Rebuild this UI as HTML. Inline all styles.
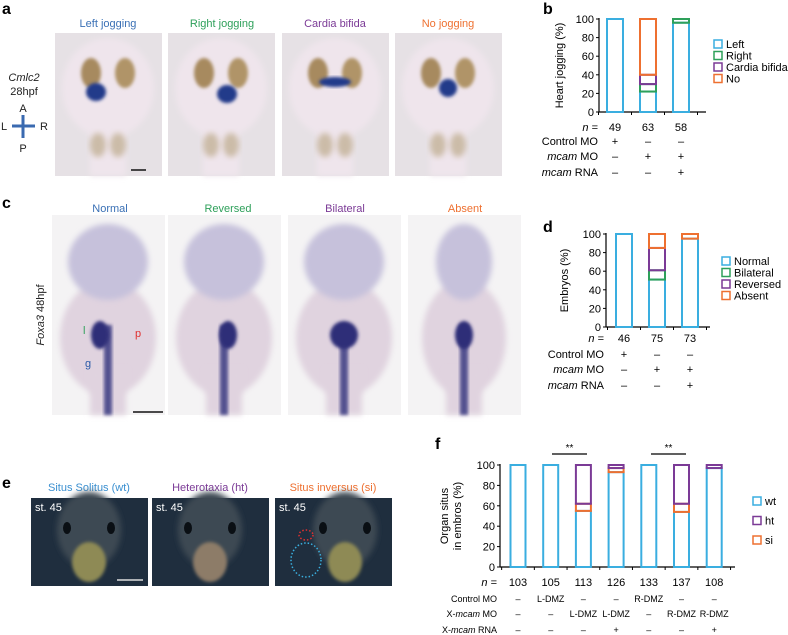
<!DOCTYPE html>
<html><head><meta charset="utf-8"><style>
body{margin:0;background:#fff;}
svg{display:block;font-family:"Liberation Sans",Arial,sans-serif;}
</style></head><body>
<svg id="fig" width="788" height="635" viewBox="0 0 788 635">
<defs>
<filter id="bl" x="-20%" y="-20%" width="140%" height="140%"><feGaussianBlur stdDeviation="3"/></filter>
<filter id="bl2" x="-20%" y="-20%" width="140%" height="140%"><feGaussianBlur stdDeviation="1.5"/></filter>
</defs>
<g font-weight="bold" font-size="16" fill="#000">
<text x="2" y="14">a</text>
<text x="543" y="14">b</text>
<text x="2" y="208">c</text>
<text x="543" y="232">d</text>
<text x="2" y="488">e</text>
<text x="435" y="449">f</text>
</g>

<g font-size="11" text-anchor="middle">
<text x="108" y="27" fill="#3a70b5">Left jogging</text>
<text x="222" y="27" fill="#2ea05a">Right jogging</text>
<text x="335" y="27" fill="#7b3a96">Cardia bifida</text>
<text x="448" y="27" fill="#ee7030">No jogging</text>
</g>
<g font-size="11" text-anchor="middle" fill="#222">
<text x="24" y="81" font-style="italic">Cmlc2</text>
<text x="24" y="95">28hpf</text>
<text x="23" y="112">A</text><text x="23" y="152">P</text>
<text x="4" y="130">L</text><text x="44" y="130">R</text>
</g>
<g stroke="#3a6ab0" stroke-width="3" fill="#3a6ab0">
<line x1="12" y1="126" x2="35" y2="126"/><line x1="23" y1="115" x2="23" y2="138"/>
</g>
<g id="photosA"></g>
<g id="photosC"></g>
<g font-size="11" text-anchor="middle">
<text x="110" y="212" fill="#3a70b5">Normal</text>
<text x="228" y="212" fill="#2ea05a">Reversed</text>
<text x="345" y="212" fill="#7b3a96">Bilateral</text>
<text x="465" y="212" fill="#ee7030">Absent</text>
</g>
<text transform="translate(44,315) rotate(-90)" font-size="11" text-anchor="middle" fill="#222"><tspan font-style="italic">Foxa3</tspan> 48hpf</text>

<g font-size="11" text-anchor="middle">
<text x="89" y="491" fill="#3a8fd0">Situs Solitus (wt)</text>
<text x="210" y="491" fill="#7b3a96">Heterotaxia (ht)</text>
<text x="333" y="491" fill="#ee7030">Situs inversus (si)</text>
</g>
<g id="photosE"></g>

<g id="chartB"></g><g id="chartD"></g><g id="chartF"></g>
</svg>
<script>
const bCats = ['49','63','58'];
const bLeft = [100,22,96];
const bRight = [0,8,4];
const bBifida = [0,10,0];
const bNo = [0,60,0];
const bRowLabels = ['Control MO','mcam MO','mcam RNA'];
const bRowVals = [['+','–','–'],['–','+','+'],['–','–','+']];
const bLegend = ['Left','Right','Cardia bifida','No'];

const dCats = ['46','75','73'];
const dNormal = [100,51,95];
const dBilateral = [0,10,0];
const dReversed = [0,24,0];
const dAbsent = [0,15,5];
const dRowLabels = ['Control MO','mcam MO','mcam RNA'];
const dRowVals = [['+','–','–'],['–','+','+'],['–','–','+']];
const dLegend = ['Normal','Bilateral','Reversed','Absent'];

const fCats = ['103','105','113','126','133','137','108'];
const fWt = [100,100,55,93,100,54,97];
const fSi = [0,0,7,4,0,8,0];
const fHt = [0,0,38,3,0,38,3];
const fRowLabels = ['Control MO','X-mcam MO','X-mcam RNA'];
const fRowVals = [['–','L-DMZ','–','–','R-DMZ','–','–'],['–','–','L-DMZ','L-DMZ','–','R-DMZ','R-DMZ'],['–','–','–','+','–','–','+']];
const fLegend = ['wt','ht','si'];
const yTicks = [0,20,40,60,80,100];

const NS='http://www.w3.org/2000/svg';
function mk(tag,attrs,parent,txt){const e=document.createElementNS(NS,tag);for(const k in attrs)e.setAttribute(k,attrs[k]);if(txt!==undefined)e.textContent=txt;parent.appendChild(e);return e;}
const C={blue:'#3aaee0',green:'#2ea05a',purple:'#7b3a96',orange:'#ee7030'};

function chart(g,cfg){
  const y=v=>cfg.y0-(cfg.y0-cfg.y100)*v/100;
  const x=i=>cfg.xc0+i*cfg.dx;
  const ax=mk('line',{x1:cfg.ax,y1:y(100)-1,x2:cfg.ax,y2:y(0),stroke:'#000','stroke-width':1.2},g);
  
  
  const bx=mk('line',{x1:cfg.ax,y1:y(0),x2:cfg.axEnd,y2:y(0),stroke:'#000','stroke-width':1.2},g);
  
  
  yTicks.forEach(t=>{
    const tl=mk('line',{x1:cfg.ax-3,y1:y(t),x2:cfg.ax,y2:y(t),stroke:'#000'},g);
    
    
    const tt=mk('text',{x:cfg.ax-5,y:y(t)+4,'font-size':11,'text-anchor':'end'},g,t);
    
    
  });
  for(let i=0;i<=cfg.cats.length;i++){
    const tk=mk('line',{x1:x(i)-cfg.dx/2,y1:y(0),x2:x(i)-cfg.dx/2,y2:y(0)+3,stroke:'#000'},g);
    
    
  }
  const yt=mk('text',{transform:`translate(${cfg.ytX},${(y(0)+y(100))/2}) rotate(-90)`,'font-size':11,'text-anchor':'middle'},g);
  
  
  cfg.ytitle.forEach((s,k)=>mk('tspan',{x:0,dy:k?13:(cfg.ytitle.length>1?-6:0)},yt,s));
  cfg.cats.forEach((c,i)=>{
    let base=0;
    cfg.series.forEach(s=>{
      const v=s.vals[i]; if(v<=0)return;
      const r=mk('rect',{x:x(i)-cfg.bw/2,y:y(base+v),width:cfg.bw,height:y(base)-y(base+v),fill:'none',stroke:s.color,'stroke-width':2},g);
      
      
      base+=v;
    });
    const nt=mk('text',{x:x(i),y:cfg.nY,'font-size':11,'text-anchor':'middle'},g,c);
    
    
    cfg.rowVals.forEach((row,r)=>{
      const t=mk('text',{x:x(i),y:cfg.rowY[r],'font-size':cfg.rowFs,'text-anchor':'middle'},g,row[i]);
      
      
    });
  });
  const nl=mk('text',{x:cfg.labX,y:cfg.nY,'font-size':11,'text-anchor':'end','font-style':'italic'},g,'n');
  
  
  mk('tspan',{'font-style':'normal'},nl,' =');
  cfg.rowLabels.forEach((l,r)=>{
    const t=mk('text',{x:cfg.labX,y:cfg.rowY[r],'font-size':cfg.rowFs,'text-anchor':'end'},g);
    
    
    const m=l.match(/^(X-)?(mcam)(.*)$/);
    if(m){ if(m[1])mk('tspan',{},t,m[1]); mk('tspan',{'font-style':'italic'},t,m[2]); mk('tspan',{},t,m[3]); }
    else t.textContent=l;
  });
  cfg.legend.forEach((l,k)=>{
    const ly=cfg.legY+k*cfg.legDy;
    const r=mk('rect',{x:cfg.legX,y:ly-4,width:8,height:8,fill:'none',stroke:cfg.legColors[k],'stroke-width':1.5},g);
    
    
    const t=mk('text',{x:cfg.legX+12,y:ly+4,'font-size':11},g,l);
    
    
  });
}

chart(document.getElementById('chartB'),{y0:112,y100:19,ax:599,axEnd:706,xc0:615,dx:33,bw:16,cats:bCats,
  series:[{name:'left',vals:bLeft,color:C.blue},{name:'right',vals:bRight,color:C.green},{name:'bifida',vals:bBifida,color:C.purple},{name:'no',vals:bNo,color:C.orange}],
  ytitle:['Heart jogging (%)'],ytX:563,nY:131,rowY:[145,160,176],rowFs:11,rowVals:bRowVals,rowLabels:bRowLabels,labX:598,
  legend:bLegend,legColors:[C.blue,C.green,C.purple,C.orange],legX:714,legY:44,legDy:11.5});
chart(document.getElementById('chartD'),{y0:327,y100:234,ax:606,axEnd:710,xc0:624,dx:33,bw:16,cats:dCats,
  series:[{name:'normal',vals:dNormal,color:C.blue},{name:'bilateral',vals:dBilateral,color:C.green},{name:'reversed',vals:dReversed,color:C.purple},{name:'absent',vals:dAbsent,color:C.orange}],
  ytitle:['Embryos (%)'],ytX:568,nY:342,rowY:[358,373,389],rowFs:11,rowVals:dRowVals,rowLabels:dRowLabels,labX:604,
  legend:dLegend,legColors:[C.blue,C.green,C.purple,C.orange],legX:722,legY:261,legDy:11.5});
chart(document.getElementById('chartF'),{y0:567,y100:465,ax:500,axEnd:735,xc0:518,dx:32.7,bw:15,cats:fCats,
  series:[{name:'wt',vals:fWt,color:C.blue},{name:'si',vals:fSi,color:C.orange},{name:'ht',vals:fHt,color:C.purple}],
  ytitle:['Organ situs','in embros (%)'],ytX:454,nY:586,rowY:[602,617,633],rowFs:9,rowVals:fRowVals,rowLabels:fRowLabels,labX:497,
  legend:fLegend,legColors:[C.blue,C.purple,C.orange],legX:753,legY:501,legDy:19.5});
(function(){
  const g=document.getElementById('chartF');
  [[552,587],[651,686]].forEach(p=>{
    const l=mk('line',{x1:p[0],y1:454,x2:p[1],y2:454,stroke:'#000','stroke-width':1.2},g);
    
    
    const t=mk('text',{x:(p[0]+p[1])/2,y:451,'font-size':10,'text-anchor':'middle'},g,'**');
    
    
  });
})();

(function(){
  const A=document.getElementById('photosA');
  const ax=[55,168,282,395];
  const hearts=[[-12,12,10,9],[6,14,10,9],[0,2,16,5],[0,8,9,9]];
  ax.forEach((x0,i)=>{
    const g=mk('g',{},A);
    
    
    mk('rect',{x:x0,y:33,width:107,height:143,fill:'#e6e1e5'},g);
    const cx=x0+53;
    mk('ellipse',{cx:cx,cy:88,rx:46,ry:50,fill:'#efe5ec',filter:'url(#bl)'},g);
    mk('rect',{x:cx-18,y:110,width:36,height:66,fill:'#efe5ec',filter:'url(#bl)'},g);
    mk('ellipse',{cx:cx-17,cy:73,rx:10,ry:15,fill:'#a78a5e',filter:'url(#bl2)'},g);
    mk('ellipse',{cx:cx+17,cy:73,rx:10,ry:15,fill:'#b09468',filter:'url(#bl2)'},g);
    const h=hearts[i];
    mk('ellipse',{cx:cx+h[0],cy:80+h[1],rx:h[2],ry:h[3],fill:'#223a8a',filter:'url(#bl2)'},g);
    mk('ellipse',{cx:cx-10,cy:145,rx:8,ry:12,fill:'#b4a07a',opacity:.6,filter:'url(#bl)'},g);
    mk('ellipse',{cx:cx+10,cy:145,rx:8,ry:12,fill:'#b4a07a',opacity:.6,filter:'url(#bl)'},g);
  });
  mk('line',{x1:131,y1:170,x2:146,y2:170,stroke:'#111','stroke-width':1.5},A);

  const Cg=document.getElementById('photosC');
  const cx0=[52,168,288,408];
  cx0.forEach((x0,i)=>{
    const g=mk('g',{},Cg);
    
    
    mk('rect',{x:x0,y:215,width:113,height:200,fill:'#f4f3f4'},g);
    const cx=x0+56;
    mk('ellipse',{cx:cx,cy:338,rx:i==3?42:48,ry:58,fill:'#e0d3df',filter:'url(#bl)'},g);
    mk('rect',{x:cx-18,y:370,width:36,height:45,fill:'#e0d3df',filter:'url(#bl)'},g);
    mk('ellipse',{cx:cx,cy:262,rx:i==3?28:40,ry:38,fill:'#c6c1db',filter:'url(#bl)'},g);
    mk('rect',{x:cx-4,y:325,width:8,height:90,fill:'#3a3a82',opacity:.85,filter:'url(#bl2)'},g);
    mk('ellipse',{cx:cx+(i==1?4:i==0?-8:0),cy:335,rx:i==2?14:9,ry:14,fill:'#2f2e78',filter:'url(#bl2)'},g);
  });
  mk('line',{x1:133,y1:412,x2:163,y2:412,stroke:'#111','stroke-width':1.5},Cg);
  mk('text',{x:83,y:334,'font-size':11,fill:'#2ea05a'},Cg,'l');
  mk('text',{x:135,y:337,'font-size':11,fill:'#e03030'},Cg,'p');
  mk('text',{x:85,y:367,'font-size':11,fill:'#2a5aa8'},Cg,'g');

  const E=document.getElementById('photosE');
  [31,152,275].forEach((x0,i)=>{
    const g=mk('g',{},E);
    
    
    mk('rect',{x:x0,y:498,width:117,height:88,fill:'#1f2e3e'},g);
    const cx=x0+(i==2?70:58);
    mk('ellipse',{cx:cx,cy:530,rx:32,ry:38,fill:'#3c4853',filter:'url(#bl)'},g);
    mk('ellipse',{cx:cx-22,cy:528,rx:4,ry:6,fill:'#0a0f14'},g);
    mk('ellipse',{cx:cx+22,cy:528,rx:4,ry:6,fill:'#0a0f14'},g);
    mk('ellipse',{cx:cx,cy:562,rx:17,ry:20,fill:i==1?'#8d7c68':'#8e8a54',filter:'url(#bl2)'},g);
    mk('text',{x:x0+4,y:511,'font-size':11,fill:'#fff'},g,'st. 45');
  });
  mk('line',{x1:117,y1:580,x2:143,y2:580,stroke:'#ddd','stroke-width':1.5},E);
  mk('ellipse',{cx:306,cy:560,rx:15,ry:17,fill:'none',stroke:'#3ab0e0','stroke-width':1.5,'stroke-dasharray':'1.5 2'},E);
  mk('ellipse',{cx:306,cy:535,rx:7,ry:5,fill:'none',stroke:'#e03030','stroke-width':1.5,'stroke-dasharray':'1.5 2'},E);
})();
</script>
</body></html>
